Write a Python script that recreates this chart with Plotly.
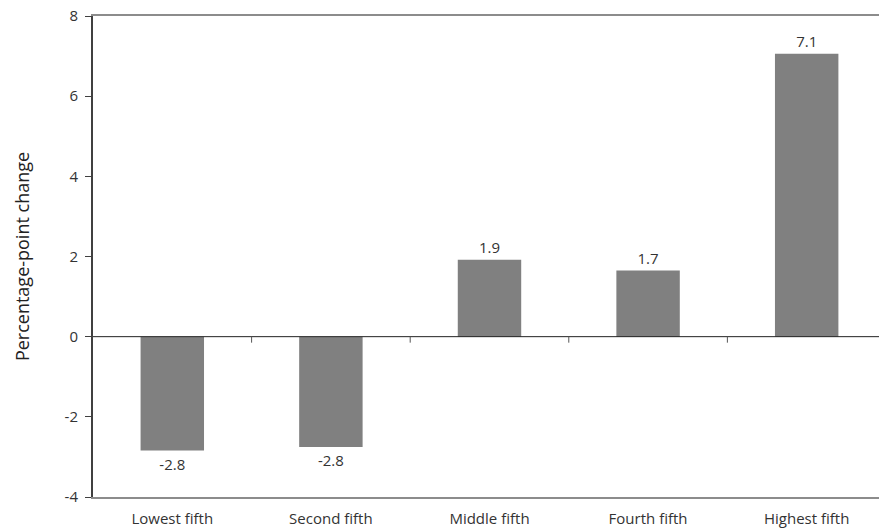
import plotly.graph_objects as go

categories = ["Lowest fifth", "Second fifth", "Middle fifth", "Fourth fifth", "Highest fifth"]
values = [-2.84, -2.75, 1.92, 1.65, 7.06]
labels = ["-2.8", "-2.8", "1.9", "1.7", "7.1"]
y_ticks = [-4, -2, 0, 2, 4, 6, 8]

FONT = "Open Sans"
x_idx = list(range(len(categories)))

fig = go.Figure(go.Bar(
    x=x_idx, y=values, width=0.4,
    marker=dict(color="#808080", line=dict(width=0)),
    text=labels, textposition="outside", cliponaxis=False,
    textfont=dict(family=FONT, size=15, color="#333333"),
))

shapes = [dict(type="line", xref="x", yref="y", x0=-0.5, x1=5, y0=0, y1=0,
               line=dict(color="#222222", width=1))]
for i in range(len(categories) - 1):
    shapes.append(dict(type="line", xref="x", yref="y", x0=i + 0.5, x1=i + 0.5,
                       ysizemode="pixel", yanchor=0, y0=0, y1=-6,
                       line=dict(color="#555555", width=1)))

fig.update_layout(
    width=879, height=528,
    margin=dict(l=93, r=0, t=16, b=31),
    plot_bgcolor="white", paper_bgcolor="white",
    showlegend=False, bargap=0.6,
    font=dict(family=FONT, color="#333333"),
    shapes=shapes,
    xaxis=dict(range=[-0.5, 4.456], tickvals=x_idx, ticktext=categories,
               showline=True, linecolor="#8c8c8c", linewidth=2, mirror=True,
               showgrid=False, zeroline=False, ticks="",
               ticklabelstandoff=7,
               tickfont=dict(family=FONT, size=15, color="#333333")),
    yaxis=dict(range=[-4, 8], tickvals=y_ticks, ticktext=[str(t) for t in y_ticks],
               showline=True, linecolor="#404040", linewidth=2,
               showgrid=False, zeroline=False, ticks="outside", ticklen=6,
               tickcolor="#404040", tickwidth=1, ticklabelstandoff=4,
               tickfont=dict(family=FONT, size=15, color="#333333"),
               title=dict(text="Percentage-point change", standoff=30,
                          font=dict(family=FONT, size=18, color="#222222"))),
)

fig.write_html("out.html", config={"displayModeBar": False},
               post_script="document.body.style.margin='0';document.body.style.padding='0';")
